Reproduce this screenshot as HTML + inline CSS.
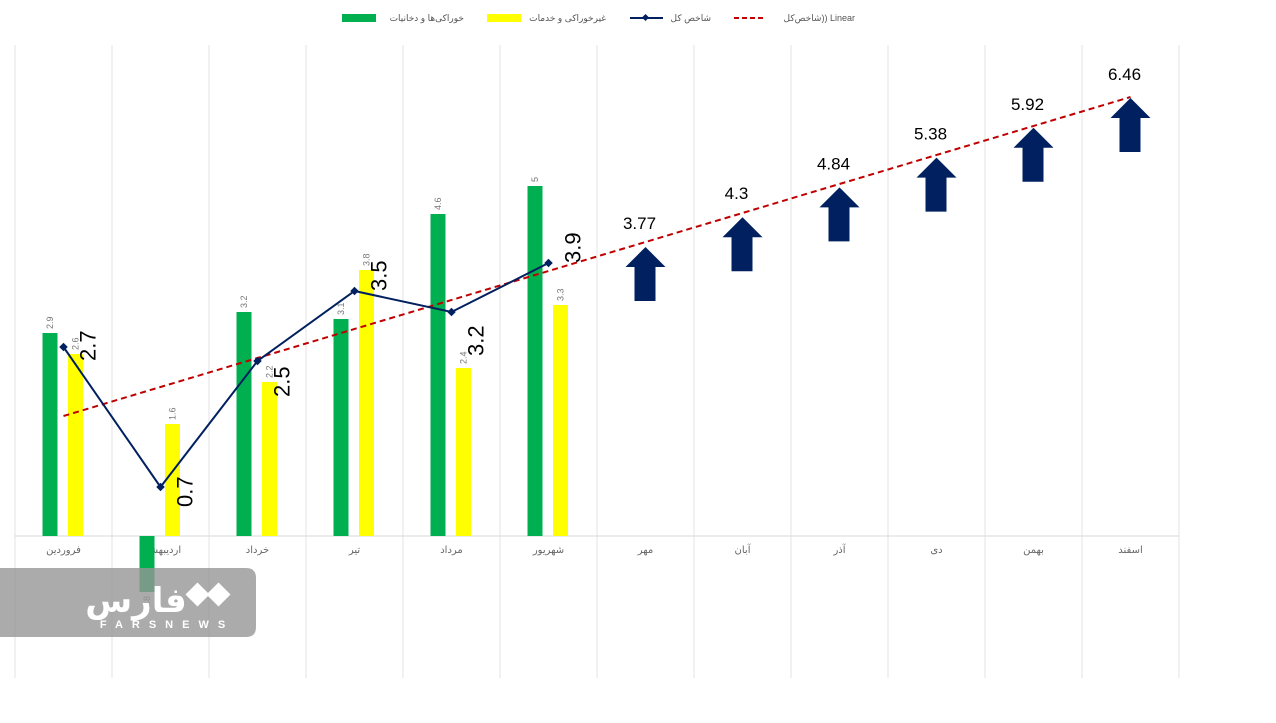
<!DOCTYPE html>
<html><head><meta charset="utf-8"><style>
body{margin:0;background:#fff;}
svg text{font-family:"Liberation Sans","DejaVu Sans",sans-serif;}
</style></head><body>
<svg width="1276" height="718" viewBox="0 0 1276 718">
<g id="grid"></g><g id="bars"></g><g id="trend"></g><g id="line"></g><g id="arrows"></g><g id="labels"></g>
<g>
 <rect x="342" y="14" width="34" height="8" fill="#00b050"/>
 <text x="464" y="21" font-size="9" fill="#555" text-anchor="end">خوراکی‌ها و دخانیات</text>
 <rect x="487" y="14" width="34" height="8" fill="#ffff00"/>
 <text x="606" y="21" font-size="9" fill="#555" text-anchor="end">غیرخوراکی و خدمات</text>
 <line x1="630" y1="18" x2="663" y2="18" stroke="#002060" stroke-width="2"/>
 <rect x="643" y="15" width="5" height="5" fill="#002060" transform="rotate(45 645.5 17.5)"/>
 <text x="711" y="21" font-size="9" fill="#555" text-anchor="end">شاخص کل</text>
 <line x1="734" y1="18" x2="766" y2="18" stroke="#c00000" stroke-width="2" stroke-dasharray="5,3"/>
 <text x="855" y="21" font-size="9" fill="#555" text-anchor="end">شاخص‌کل)) Linear</text>
</g>
<g>
 <path d="M0 568 H246 Q256 568 256 578 V627 Q256 637 246 637 H0 Z" fill="rgba(150,150,150,0.8)"/>
 <text x="136" y="612" font-size="34" font-weight="bold" fill="#fff" text-anchor="middle" font-family="'Noto Sans CJK SC',sans-serif">فارس</text>
 <rect x="189" y="586" width="17" height="17" fill="#fff" transform="rotate(45 197.5 594.5)"/>
 <rect x="210" y="586" width="17" height="17" fill="#fff" transform="rotate(45 218.5 594.5)"/>
 <text x="167" y="628" font-size="11" font-weight="bold" fill="#fff" text-anchor="middle" letter-spacing="9">FARSNEWS</text>
</g>
</svg>
<script>
const months=["فروردین","اردیبهشت","خرداد","تیر","مرداد","شهریور","مهر","آبان","آذر","دی","بهمن","اسفند"];
const foodValues=[2.9,-0.8,3.2,3.1,4.6,5];
const nonFoodValues=[2.6,1.6,2.2,3.8,2.4,3.3];
const totalValues=[2.7,0.7,2.5,3.5,3.2,3.9];
const forecastLabels=["3.77","4.3","4.84","5.38","5.92","6.46"];
const NS="http://www.w3.org/2000/svg";
const x0=15,colW=97,baseY=536,ppu=70;
const xC=i=>x0+colW*i+colW/2;
const yV=v=>baseY-v*ppu;
function mk(tag,attrs,parent,txt){const e=document.createElementNS(NS,tag);for(const k in attrs)e.setAttribute(k,attrs[k]);if(txt!==undefined)e.textContent=txt;document.getElementById(parent).appendChild(e);return e;}
for(let i=0;i<=12;i++){const g=mk('line',{x1:x0+colW*i,x2:x0+colW*i,y1:45,y2:678,stroke:'#e3e3e3','stroke-width':1},'grid');

}
const ax=mk('line',{x1:x0,x2:x0+colW*12,y1:baseY,y2:baseY,stroke:'#d9d9d9','stroke-width':1},'grid');


months.forEach((m,i)=>{const t=mk('text',{x:xC(i),y:553,'font-size':10,fill:'#666','text-anchor':'middle','letter-spacing':'1.5'},'grid',m);

});
function bar(v,i,off,color,name){const y1=yV(Math.max(v,0)),h=Math.abs(v)*ppu;
const r=mk('rect',{x:xC(i)+off-7.5,y:y1,width:15,height:h,fill:color},'bars');


const lx=xC(i)+off+3,ly=v>=0?y1-4:yV(v)+4;
const t=mk('text',{x:lx,y:ly,'font-size':9,fill:'#777','text-anchor':v>=0?'start':'end',transform:`rotate(-90 ${lx} ${ly})`},'labels',String(v));

}
foodValues.forEach((v,i)=>bar(v,i,-13.5,'#00b050','food-bar'));
nonFoodValues.forEach((v,i)=>bar(v,i,12,'#ffff00','nonfood-bar'));
const n=totalValues.length;let mx=(n-1)/2,my=totalValues.reduce((a,b)=>a+b)/n,sxy=0,sxx=0;
totalValues.forEach((v,i)=>{sxy+=(i-mx)*(v-my);sxx+=(i-mx)*(i-mx);});
const slope=sxy/sxx,icpt=my-slope*mx;const tr=i=>icpt+slope*i;
const tl=mk('line',{x1:xC(0),y1:yV(tr(0)),x2:xC(11),y2:yV(tr(11)),stroke:'#c00000','stroke-width':2,'stroke-dasharray':'6,4'},'trend');


const pl=mk('polyline',{points:totalValues.map((v,i)=>xC(i)+','+yV(v)).join(' '),fill:'none',stroke:'#002060','stroke-width':2},'line');


totalValues.forEach((v,i)=>{const cx=xC(i),cy=yV(v);
const d=mk('rect',{x:cx-3,y:cy-3,width:6,height:6,fill:'#002060',transform:`rotate(45 ${cx} ${cy})`},'line');


const lx=cx+32,ly=cy+(i===4?44:i===2?36:i===0?14:i===1?20:0);
const t=mk('text',{x:lx,y:ly,'font-size':22,fill:'#000','text-anchor':'start',transform:`rotate(-90 ${lx} ${ly})`},'labels',v.toFixed(1));

});
forecastLabels.forEach((lab,k)=>{const i=6+k,cx=xC(i),ty=yV(tr(i))+5-k*0.8;
const a=mk('path',{d:`M${cx} ${ty} L${cx+20} ${ty+20} L${cx+10} ${ty+20} L${cx+10} ${ty+54} L${cx-11} ${ty+54} L${cx-11} ${ty+20} L${cx-20} ${ty+20} Z`,fill:'#002060'},'arrows');


const t=mk('text',{x:cx-6,y:ty-18,'font-size':17,fill:'#000','text-anchor':'middle'},'labels',lab);

});
</script>
</body></html>
